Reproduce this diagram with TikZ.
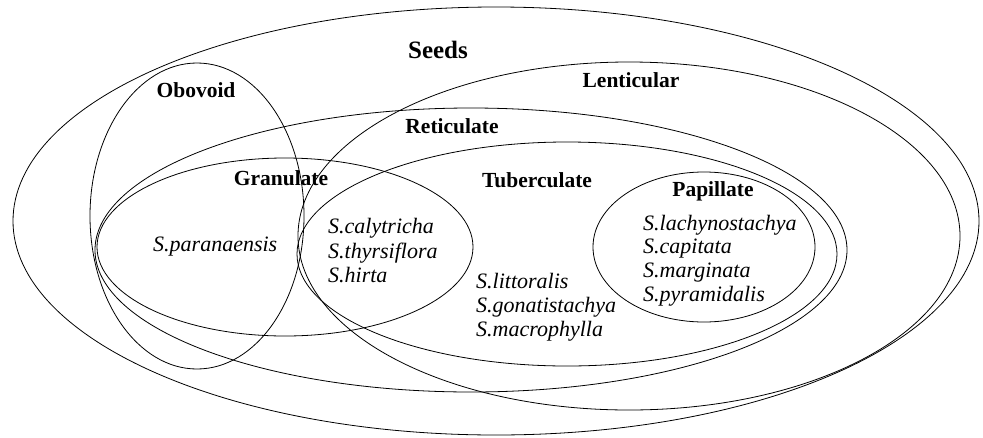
\documentclass[tikz,border=0pt]{standalone}
\usepackage{fontspec}
\setmainfont{Liberation Serif}
\begin{document}
\begin{tikzpicture}[x=1pt,y=-1pt,
  set/.style={draw=black,line width=0.8pt},
  setlabel/.style={font=\fontsize{21.5}{24}\selectfont\bfseries,anchor=base,inner sep=0pt},
  species/.style={font=\fontsize{22}{24}\selectfont\itshape,anchor=base west,inner sep=0pt}]
\useasboundingbox (0,0) rectangle (983,437);
% sets
\draw[set] (496,221) ellipse [x radius=483pt, y radius=214pt];
\draw[set] (629,236) ellipse [x radius=331pt, y radius=174pt];
\draw[set] (471,250) ellipse [x radius=376pt, y radius=142pt];
\draw[set] (567,254) ellipse [x radius=270pt, y radius=112pt];
\draw[set] (704,247) ellipse [x radius=111pt, y radius=75pt];
\draw[set] (285,247) ellipse [x radius=188pt, y radius=89pt];
\draw[set] (197,216) ellipse [x radius=107pt, y radius=153pt];
% set labels
\node[setlabel,font=\fontsize{25}{28}\selectfont\bfseries] (seeds) at (438,58) {Seeds};
\node[setlabel] (obovoid) at (196,97) {Obovoid};
\node[setlabel] (lenticular) at (631,87) {Lenticular};
\node[setlabel] (reticulate) at (452,133) {Reticulate};
\node[setlabel] (granulate) at (281,185) {Granulate};
\node[setlabel] (tuberculate) at (537,187) {Tuberculate};
\node[setlabel] (papillate) at (713,196) {Papillate};
% species
\node[species] (par) at (153,251) {S.paranaensis};
\node[species] (cal) at (328,233) {S.calytricha};
\node[species] (thy) at (328,258) {S.thyrsiflora};
\node[species] (hir) at (328,282) {S.hirta};
\node[species] (lit) at (476,288) {S.littoralis};
\node[species] (gon) at (476,312) {S.gonatistachya};
\node[species] (mac) at (476,336) {S.macrophylla};
\node[species] (lac) at (643,230) {S.lachynostachya};
\node[species] (cap) at (643,253) {S.capitata};
\node[species] (mar) at (643,277) {S.marginata};
\node[species] (pyr) at (643,301) {S.pyramidalis};
\end{tikzpicture}
\end{document}
